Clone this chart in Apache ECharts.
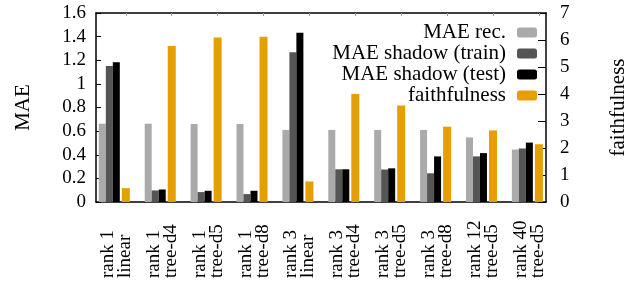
<!DOCTYPE html>
<html>
<head>
<meta charset="utf-8">
<script src="https://cdn.jsdelivr.net/npm/echarts@6/dist/echarts.min.js"></script>
<style>
  html, body { margin: 0; padding: 0; background: #fff; }
  #chart { width: 637px; height: 281px; }
</style>
</head>
<body>
<div id="chart"></div>
<script>
// categories (two-line x labels)
const categories = [
  'rank 1\nlinear', 'rank 1\ntree-d4', 'rank 1\ntree-d5', 'rank 1\ntree-d8',
  'rank 3\nlinear', 'rank 3\ntree-d4', 'rank 3\ntree-d5', 'rank 3\ntree-d8',
  'rank 12\ntree-d5', 'rank 40\ntree-d5'
]
// left axis (MAE)
const maeRec = [0.663, 0.663, 0.66, 0.66, 0.61, 0.61, 0.61, 0.61, 0.547, 0.444]
const maeShadowTrain = [1.152, 0.098, 0.084, 0.067, 1.267, 0.277, 0.275, 0.243, 0.386, 0.453]
const maeShadowTest = [1.183, 0.106, 0.095, 0.095, 1.432, 0.277, 0.285, 0.386, 0.414, 0.503]
// right axis
const faithfulness = [0.514, 5.775, 6.094, 6.12, 0.76, 4.0, 3.57, 2.79, 2.65, 2.14]

const font = 'Liberation Serif'
const toPairs = arr => arr.map((v, i) => [i, v])
const positions = categories.map((c, i) => i)

const chart = echarts.init(document.getElementById('chart'))

const frameLine = { show: true, onZero: false, lineStyle: { color: '#000', width: 1.5 } }

const option = {
  animation: false,
  textStyle: { fontFamily: font },
  grid: { left: 96, right: 79, top: 13, bottom: 77, containLabel: false },
  legend: {
    orient: 'vertical',
    right: 95,
    top: 17,
    align: 'right',
    itemWidth: 20,
    itemHeight: 10,
    itemGap: 0,
    textStyle: { fontFamily: font, fontSize: 21, color: '#000', lineHeight: 21, padding: [0, 6, 0, 0] },
    data: ['MAE rec.', 'MAE shadow (train)', 'MAE shadow (test)', 'faithfulness']
  },
  xAxis: [
    {
      // label axis / bottom border
      type: 'value',
      position: 'bottom',
      min: -0.445,
      max: 9.36,
      splitLine: { show: false },
      axisLine: frameLine,
      axisTick: { show: false },
      axisLabel: {
        customValues: positions,
        rotate: 90,
        align: 'left',
        verticalAlign: 'middle',
        margin: 76,
        fontFamily: font,
        fontSize: 19,
        lineHeight: 17,
        color: '#000',
        formatter: v => categories[Math.round(v)] || ''
      }
    },
    {
      // MAE bars
      type: 'value',
      show: false,
      position: 'bottom',
      min: -0.29,
      max: 9.515,
      axisLine: { onZero: false }
    },
    {
      // faithfulness bars / top border
      type: 'value',
      position: 'top',
      min: -0.65,
      max: 9.155,
      splitLine: { show: false },
      axisLine: frameLine,
      axisTick: { show: true, inside: true, length: 3, customValues: positions, lineStyle: { color: '#999' } },
      axisLabel: { show: false }
    }
  ],
  yAxis: [
    {
      type: 'value',
      position: 'left',
      min: 0,
      max: 1.6,
      interval: 0.2,
      name: 'MAE',
      nameLocation: 'middle',
      nameGap: 62,
      nameTextStyle: { fontFamily: font, fontSize: 21, color: '#000' },
      splitLine: { show: false },
      axisLine: frameLine,
      axisTick: { show: true, inside: true, length: 5, lineStyle: { color: '#000' } },
      axisLabel: { fontFamily: font, fontSize: 19, color: '#000', margin: 10 }
    },
    {
      type: 'value',
      position: 'right',
      min: 0,
      max: 7,
      interval: 1,
      name: 'faithfulness',
      nameLocation: 'middle',
      nameGap: 62,
      nameTextStyle: { fontFamily: font, fontSize: 21, color: '#000' },
      splitLine: { show: false },
      axisLine: frameLine,
      axisTick: { show: true, inside: true, length: 8, lineStyle: { color: '#000' } },
      axisLabel: { fontFamily: font, fontSize: 19, color: '#000', margin: 14 }
    }
  ],
  series: [
    {
      name: 'MAE rec.',
      type: 'bar',
      xAxisIndex: 1,
      yAxisIndex: 0,
      barWidth: 7,
      barGap: '0%',
      itemStyle: { color: '#aaaaaa' },
      data: toPairs(maeRec)
    },
    {
      name: 'MAE shadow (train)',
      type: 'bar',
      xAxisIndex: 1,
      yAxisIndex: 0,
      barWidth: 7,
      barGap: '0%',
      itemStyle: { color: '#555555' },
      data: toPairs(maeShadowTrain)
    },
    {
      name: 'MAE shadow (test)',
      type: 'bar',
      xAxisIndex: 1,
      yAxisIndex: 0,
      barWidth: 7,
      barGap: '0%',
      itemStyle: { color: '#000000' },
      data: toPairs(maeShadowTest)
    },
    {
      name: 'faithfulness',
      type: 'bar',
      xAxisIndex: 2,
      yAxisIndex: 1,
      barWidth: 8,
      itemStyle: { color: '#e69f00' },
      data: toPairs(faithfulness)
    }
  ]
}

chart.setOption(option)
</script>
</body>
</html>
